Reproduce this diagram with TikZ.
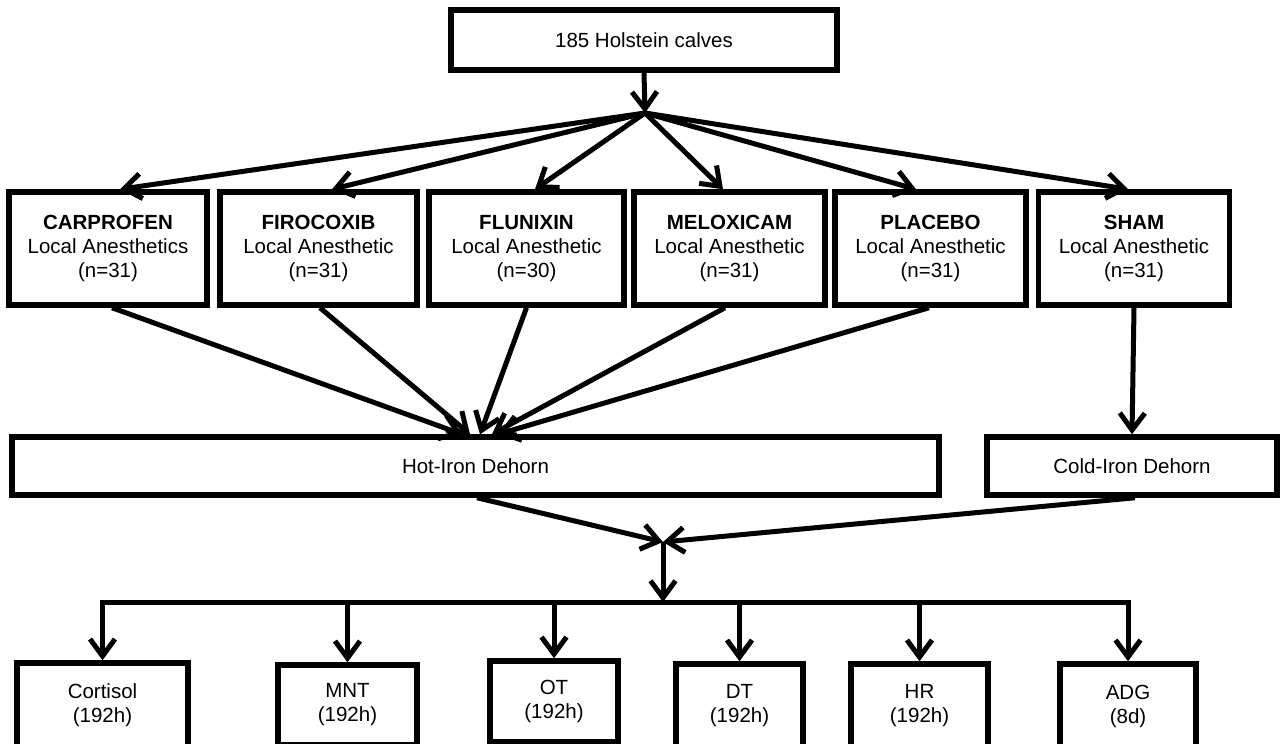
\documentclass[tikz,border=0pt]{standalone}
\usepackage{fontspec}
\setmainfont{Liberation Sans}
\usetikzlibrary{arrows.meta}
\begin{document}
\begin{tikzpicture}[x=1pt,y=-1pt,
  box/.style={draw=black, line width=5.5pt, fill=white, inner sep=0pt, align=center,
    font=\fontsize{20.5}{24}\selectfont},
  tbox/.style={box, minimum height=113pt},
  dbox/.style={box, minimum height=58pt},
  mbox/.style={box, minimum height=84pt},
  conn/.style={line width=5pt, line join=miter},
  arr/.style={conn, -{Straight Barb[length=17pt,width=25pt]}}]
\useasboundingbox (0,0) rectangle (1282,744);
\clip (0,0) rectangle (1282,744);
\fill[white] (0,0) rectangle (1282,744);

% top
\node[box, minimum width=386pt, minimum height=60pt] (top) at (644,40) {185 Holstein calves};
\coordinate (hub1) at (645,113);

% treatment boxes
\node[tbox, minimum width=198pt] (carp) at (108,248.5) {\textbf{CARPROFEN}\\Local Anesthetics\\(n=31)};
\node[tbox, minimum width=197pt] (firo) at (318.5,248.5) {\textbf{FIROCOXIB}\\Local Anesthetic\\(n=31)};
\node[tbox, minimum width=195pt] (flun) at (526.5,248.5) {\textbf{FLUNIXIN}\\Local Anesthetic\\(n=30)};
\node[tbox, minimum width=191pt] (melo) at (729.5,248.5) {\textbf{MELOXICAM}\\Local Anesthetic\\(n=31)};
\node[tbox, minimum width=191pt] (plac) at (930.5,248.5) {\textbf{PLACEBO}\\Local Anesthetic\\(n=31)};
\node[tbox, minimum width=191pt] (sham) at (1134,248.5) {\textbf{SHAM}\\Local Anesthetic\\(n=31)};

% dehorn boxes
\node[dbox, minimum width=927pt] (hot) at (475.5,466) {Hot-Iron Dehorn};
\node[dbox, minimum width=290pt] (cold) at (1132,466) {Cold-Iron Dehorn};
\coordinate (hub2) at (663,542);
\coordinate (busM) at (663,602);

% measure boxes
\node[mbox, minimum width=171pt] (cort) at (102.5,705) {Cortisol\\(192h)};
\node[mbox, minimum width=139pt, minimum height=80pt] (mnt) at (347.5,705) {MNT\\(192h)};
\node[mbox, minimum width=128pt, minimum height=81pt] (ot) at (554,701.5) {OT\\(192h)};
\node[mbox, minimum width=127pt] (dt) at (739.5,706) {DT\\(192h)};
\node[mbox, minimum width=137pt] (hr) at (919.5,706) {HR\\(192h)};
\node[mbox, minimum width=136pt] (adg) at (1128,706) {ADG\\(8d)};

% connectors top
\draw[arr] (top.south) -- (hub1);
\draw[arr] (hub1) -- ([xshift=12pt]carp.north);
\draw[arr] (hub1) -- ([xshift=13.5pt]firo.north);
\draw[arr] (hub1) -- ([xshift=8.5pt]flun.north);
\draw[arr] (hub1) -- ([xshift=-6.5pt]melo.north);
\draw[arr] (hub1) -- ([xshift=-14.5pt]plac.north);
\draw[arr] (hub1) -- ([xshift=-6pt]sham.north);

% to dehorn
\draw[arr] ([xshift=4pt]carp.south) -- ([xshift=-13.5pt]hot.north);
\draw[arr] ([xshift=1.5pt]firo.south) -- ([xshift=-5.5pt]hot.north);
\draw[arr] (flun.south) -- ([xshift=4.5pt]hot.north);
\draw[arr] ([xshift=-4.5pt]melo.south) -- ([xshift=16.5pt]hot.north);
\draw[arr] ([xshift=-1.5pt]plac.south) -- ([xshift=22.5pt]hot.north);
\draw[arr] (sham.south) -- (cold.north);

% to hub2
\draw[arr] ([xshift=1.5pt]hot.south) -- (hub2);
\draw[arr] ([xshift=3pt]cold.south) -- (hub2);
\draw[arr] (hub2) -- (busM);

% bus and drops
\draw[arr] (busM) -| (cort.north);
\draw[arr] (busM) -| (adg.north);
\draw[arr] (mnt.north |- busM) -- (mnt.north);
\draw[arr] (ot.north |- busM) -- (ot.north);
\draw[arr] (dt.north |- busM) -- (dt.north);
\draw[arr] (hr.north |- busM) -- (hr.north);
\end{tikzpicture}
\end{document}
